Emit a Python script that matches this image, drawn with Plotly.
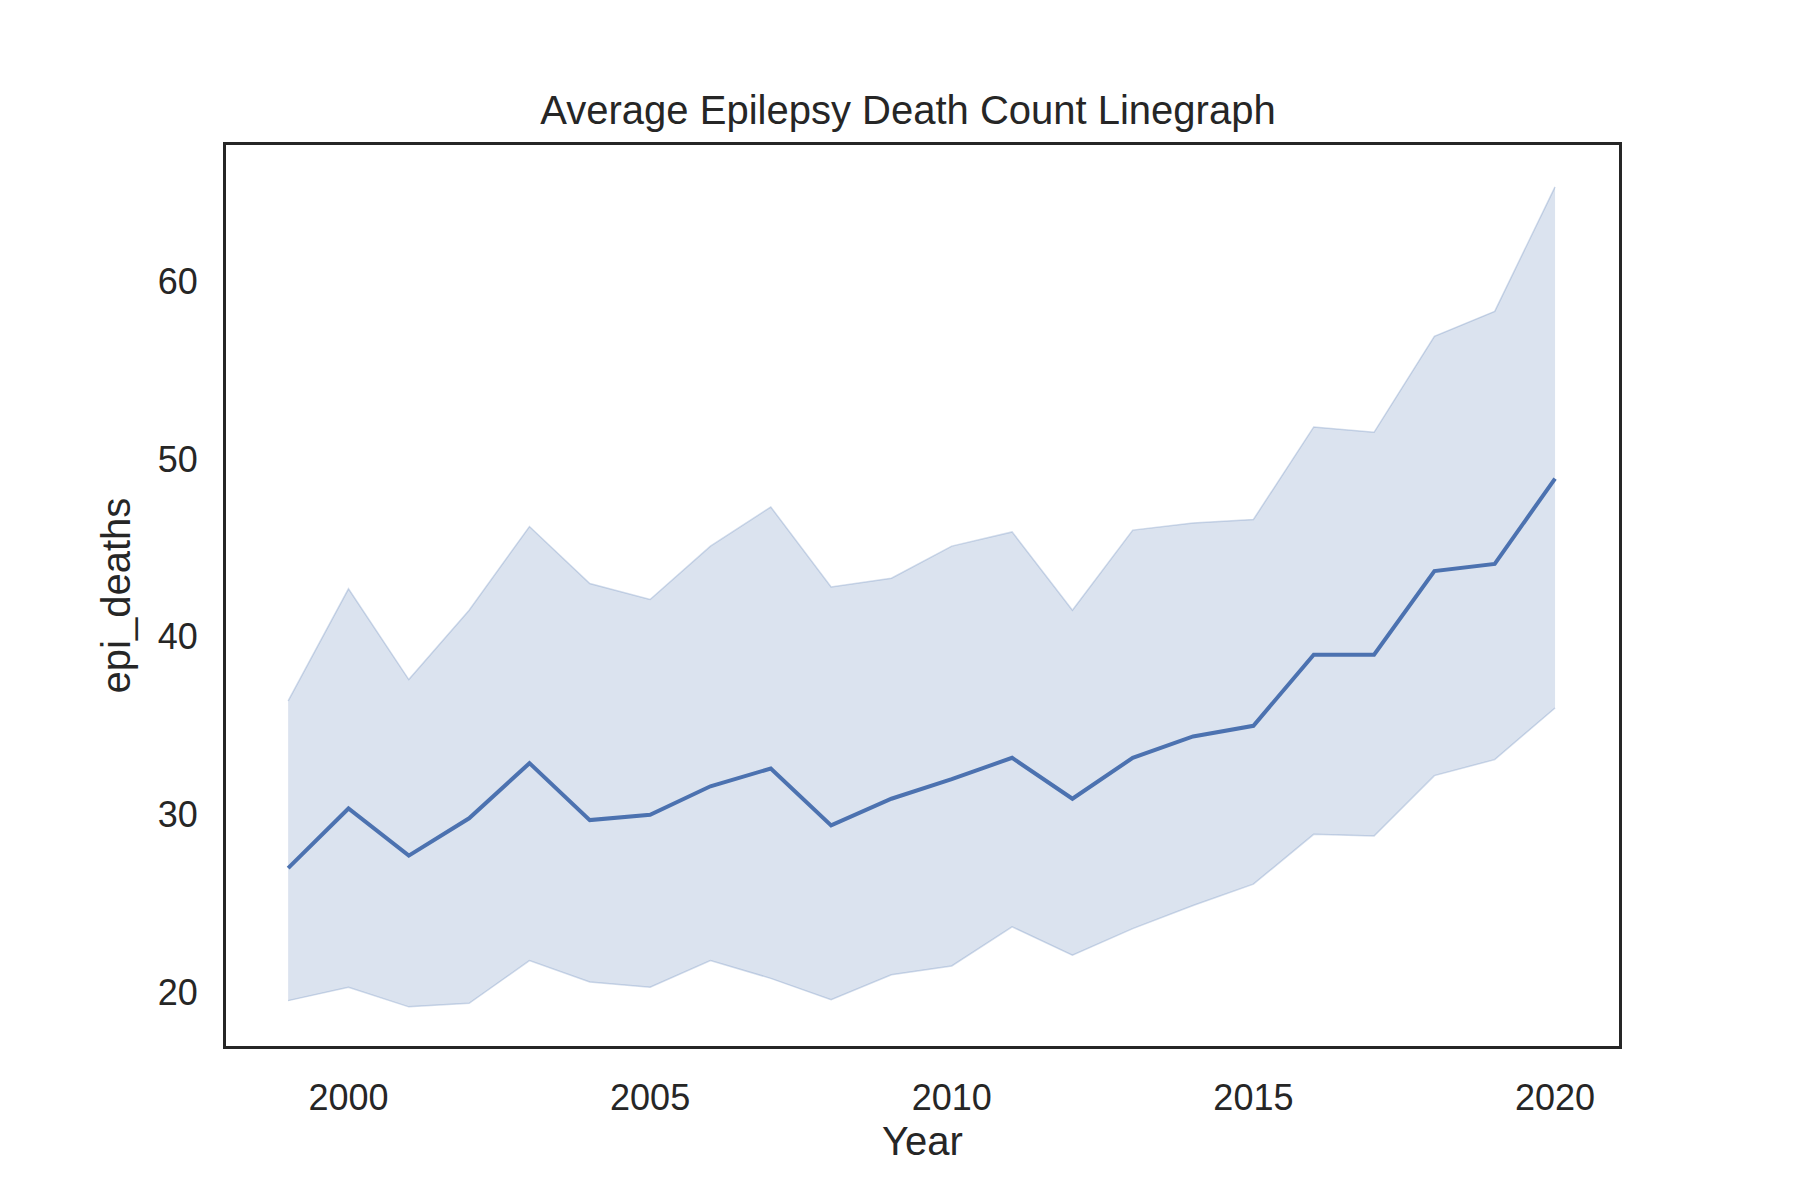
import plotly.graph_objects as go

years = list(range(1999, 2021))
mean_deaths = [27.0, 30.35, 27.7, 29.8, 32.9, 29.7, 30.0, 31.6, 32.6, 29.4, 30.9,
               32.0, 33.2, 30.9, 33.2, 34.4, 35.0, 39.0, 39.0, 43.7, 44.1, 48.9]
upper_ci = [36.4, 42.7, 37.6, 41.5, 46.2, 43.0, 42.1, 45.1, 47.3, 42.8, 43.3,
            45.1, 45.9, 41.5, 46.0, 46.4, 46.6, 51.8, 51.5, 56.9, 58.3, 65.3]
lower_ci = [19.55, 20.3, 19.2, 19.4, 21.8, 20.6, 20.3, 21.8, 20.8, 19.6, 21.0,
            21.5, 23.7, 22.1, 23.6, 24.9, 26.1, 28.9, 28.8, 32.2, 33.1, 36.0]

fig = go.Figure()
fig.add_trace(go.Scatter(x=years, y=upper_ci, mode="lines",
                         line=dict(color="rgba(76,114,176,0.25)", width=1.5),
                         showlegend=False, hoverinfo="skip"))
fig.add_trace(go.Scatter(x=years, y=lower_ci, mode="lines", fill="tonexty",
                         fillcolor="rgba(76,114,176,0.2)",
                         line=dict(color="rgba(76,114,176,0.25)", width=1.5),
                         showlegend=False, hoverinfo="skip"))
fig.add_trace(go.Scatter(x=years, y=mean_deaths, mode="lines",
                         line=dict(color="#4c72b0", width=4), showlegend=False))

axis_font = dict(family="Arial, Liberation Sans, sans-serif", size=36, color="#262626")
fig.update_layout(
    width=1800, height=1200, paper_bgcolor="white", plot_bgcolor="white",
    margin=dict(l=218, r=189, t=137, b=162),
    font=axis_font,
    title=dict(text="Average Epilepsy Death Count Linegraph", x=0.5, xanchor="center",
               y=0.915, yanchor="middle", font=dict(size=40, color="#262626")),
)
fig.update_xaxes(range=[1997.97, 2021.06], tickvals=[2000, 2005, 2010, 2015, 2020],
                 showgrid=False, zeroline=False, showline=True, mirror=True,
                 linecolor="#262626", linewidth=3, ticks="outside", ticklen=18,
                 tickcolor="rgba(0,0,0,0)",
                 title=dict(text="Year", font=dict(size=40), standoff=10))
fig.update_yaxes(range=[17.0, 67.65], tickvals=[20, 30, 40, 50, 60],
                 showgrid=False, zeroline=False, showline=True, mirror=True,
                 linecolor="#262626", linewidth=3, ticks="outside", ticklen=18,
                 tickcolor="rgba(0,0,0,0)",
                 title=dict(text="epi_deaths", font=dict(size=40), standoff=15))

fig.write_html("out.html")
